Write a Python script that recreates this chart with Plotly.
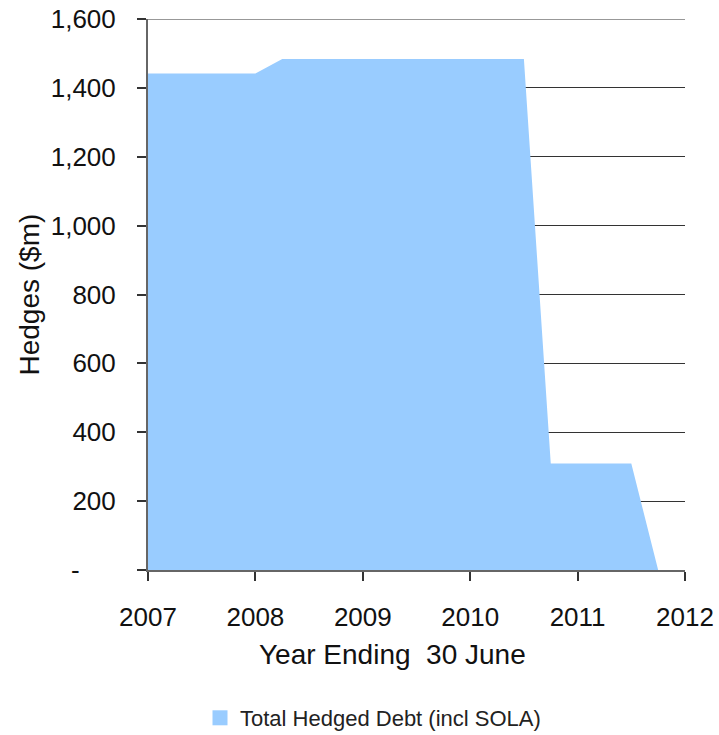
import plotly.graph_objects as go

# Data
years = [2007, 2008, 2008.25, 2010.5, 2010.75, 2011.5, 2011.75]
hedged_debt = [1442, 1442, 1484, 1484, 309, 309, 0]
series_name = "Total Hedged Debt (incl SOLA)"

y_tick_vals = [0, 200, 400, 600, 800, 1000, 1200, 1400, 1600]
y_tick_text = ["-\u00a0\u00a0\u00a0\u00a0\u00a0", "200", "400", "600", "800", "1,000", "1,200", "1,400", "1,600"]
x_tick_vals = [2007, 2008, 2009, 2010, 2011, 2012]
x_title = "Year Ending\u00a0 30 June"
y_title = "Hedges ($m)"

font_family = "Liberation Sans, Arial, Helvetica, sans-serif"
fill_color = "#99CCFF"

fig = go.Figure()
fig.add_trace(go.Scatter(
    x=years, y=hedged_debt, name=series_name, legendgroup="a",
    mode="none", fill="tozeroy", fillcolor=fill_color, showlegend=False,
))
# legend entry with square swatch
fig.add_trace(go.Scatter(
    x=[None], y=[None], name=series_name, legendgroup="a",
    mode="markers", marker=dict(symbol="square", size=15, color=fill_color),
))

# top gridline (plotly hides the gridline at the range edge)
fig.add_shape(type="line", xref="paper", x0=0, x1=1, yref="y",
              y0=y_tick_vals[-1], y1=y_tick_vals[-1],
              line=dict(color="#333333", width=1.2), layer="below")

fig.update_layout(
    width=719, height=735,
    margin=dict(l=148, r=34, t=19, b=165, autoexpand=False),
    paper_bgcolor="white", plot_bgcolor="white",
    font=dict(family=font_family, color="#111111"),
    showlegend=True,
    legend=dict(orientation="h", x=0.419, xanchor="center",
                y=-0.2686, yanchor="middle",
                font=dict(size=22, color="#222222"), itemwidth=30),
    xaxis=dict(
        range=[2007, 2012], tickvals=x_tick_vals, ticktext=[str(v) for v in x_tick_vals],
        ticks="outside", ticklen=9, tickwidth=1.5, tickcolor="#333333",
        showline=True, linecolor="#666666", linewidth=2,
        showgrid=False, zeroline=False, automargin=False,
        tickfont=dict(size=26), ticklabelstandoff=14,
    ),
    yaxis=dict(
        range=[0, 1600], tickvals=y_tick_vals, ticktext=y_tick_text,
        ticks="outside", ticklen=9, tickwidth=1.5, tickcolor="#333333",
        showline=True, linecolor="#666666", linewidth=2,
        showgrid=True, gridcolor="#333333", gridwidth=1.2,
        zeroline=False, automargin=False,
        tickfont=dict(size=26), ticklabelstandoff=16,
    ),
    annotations=[
        dict(text=x_title, xref="paper", yref="paper", x=0.456, y=-0.154,
             xanchor="center", yanchor="middle", showarrow=False,
             font=dict(size=28, color="#111111")),
        dict(text=y_title, xref="paper", yref="paper", x=-0.2216, y=0.5,
             xanchor="center", yanchor="middle", showarrow=False, textangle=-90,
             font=dict(size=28, color="#111111")),
    ],
)

fig.write_html("out.html")
